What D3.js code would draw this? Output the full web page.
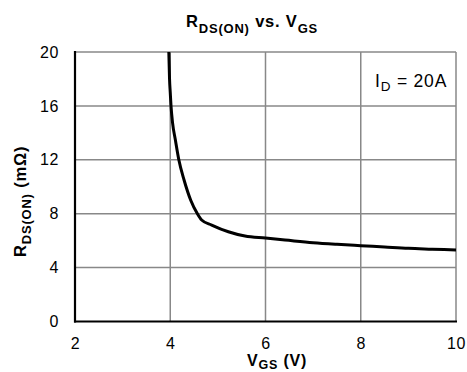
<!DOCTYPE html>
<html>
<head>
<meta charset="utf-8">
<script src="https://cdn.jsdelivr.net/npm/d3@7"></script>
<style>
  html, body { margin: 0; padding: 0; background: #fff; }
  svg text { font-family: "Liberation Sans", Arial, sans-serif; fill: #000; }
</style>
</head>
<body>
<svg id="chart" width="467" height="372"></svg>
<script>
// Gate voltage (V) and on-resistance (mΩ) at I_D = 20A
const vgs = [3.97, 3.985, 4.0, 4.016, 4.05, 4.106, 4.18, 4.29, 4.43, 4.57, 4.66, 4.87, 5.22, 5.57, 6.0, 6.41, 7.0, 7.5, 8.0, 8.5, 9.0, 9.5, 10.0];
const rds = [20, 18, 17, 16, 14.7, 13.5, 12, 10.5, 9.0, 8.0, 7.53, 7.16, 6.66, 6.34, 6.19, 6.05, 5.85, 5.73, 5.63, 5.53, 5.43, 5.37, 5.31];
const xTicks = [2, 4, 6, 8, 10];
const yTicks = [0, 4, 8, 12, 16, 20];

const svg = d3.select("#chart");
const plotL = 75, plotR = 456, plotT = 52, plotB = 321.5;

const x = d3.scaleLinear().domain([2, 10]).range([plotL, plotR]);
const y = d3.scaleLinear().domain([0, 20]).range([plotB, plotT]);

// grid (also forms the grey top and right edges of the frame)
const grid = svg.append("g").attr("stroke", "#888").attr("stroke-width", 1.5);
grid.selectAll("line.v").data(xTicks.slice(1)).join("line")
  .attr("x1", d => x(d)).attr("x2", d => x(d)).attr("y1", plotT).attr("y2", plotB);
grid.selectAll("line.h").data(yTicks.slice(1)).join("line")
  .attr("x1", plotL).attr("x2", plotR).attr("y1", d => y(d)).attr("y2", d => y(d));

// axes (ticks hidden, labels only)
const xAxis = d3.axisBottom(x).tickValues(xTicks).tickSize(0).tickPadding(16).tickFormat(d3.format("d"));
const yAxis = d3.axisLeft(y).tickValues(yTicks).tickSize(0).tickPadding(16).tickFormat(d3.format("d"));
const gx = svg.append("g").attr("transform", `translate(0,${plotB})`).call(xAxis);
const gy = svg.append("g").attr("transform", `translate(${plotL},0)`).call(yAxis);
[gx, gy].forEach(g => {
  g.select(".domain").remove();
  g.selectAll("text").style("font-size", "16px").style("letter-spacing", "0.6px")
    .style("font-family", "'Liberation Sans', Arial, sans-serif");
});

// frame: black on left/bottom
svg.append("line").attr("x1", plotL).attr("x2", plotL).attr("y1", plotT - 1).attr("y2", plotB + 1)
  .attr("stroke", "#000").attr("stroke-width", 2.2);
svg.append("line").attr("x1", plotL - 1).attr("x2", plotR + 1).attr("y1", plotB).attr("y2", plotB)
  .attr("stroke", "#000").attr("stroke-width", 2.2);

// curve
const pts = vgs.map((v, i) => [v, rds[i]]);
svg.append("path").datum(pts)
  .attr("fill", "none").attr("stroke", "#000").attr("stroke-width", 3)
  .attr("stroke-linejoin", "round")
  .attr("d", d3.line().x(d => x(d[0])).y(d => y(d[1])).curve(d3.curveMonotoneX));

// text with a subscripted part
function subText(sel, parts, mainSize, subSize, drop) {
  parts.forEach(([str, isSub], i) => {
    const prevSub = i > 0 && parts[i - 1][1];
    const t = sel.append("tspan").text(str).style("font-size", (isSub ? subSize : mainSize) + "px");
    if (isSub && !prevSub) t.attr("dy", drop);
    else if (!isSub && prevSub) t.attr("dy", -drop);
  });
}

// title
const title = svg.append("text").attr("x", 186).attr("y", 27.3)
  .style("font-weight", "bold").style("letter-spacing", "0.8px");
subText(title, [["R", false], ["DS(ON)", true], [" vs. V", false], ["GS", true]], 16.5, 13, 5.5);

// y label
const ylab = svg.append("text").attr("transform", "translate(25.5,257) rotate(-90)")
  .style("font-weight", "bold").style("letter-spacing", "0.8px");
subText(ylab, [["R", false], ["DS(ON)", true], [" (mΩ)", false]], 16.5, 13, 5);

// x label
const xlab = svg.append("text").attr("x", 247).attr("y", 365.7)
  .style("font-weight", "bold").style("letter-spacing", "0.8px");
subText(xlab, [["V", false], ["GS", true], [" (V)", false]], 16, 12.5, 3);

// annotation
const ann = svg.append("text").attr("x", 375).attr("y", 86.7).style("letter-spacing", "0.8px");
subText(ann, [["I", false], ["D", true], [" = 20A", false]], 17.5, 13.5, 4);
</script>
</body>
</html>
